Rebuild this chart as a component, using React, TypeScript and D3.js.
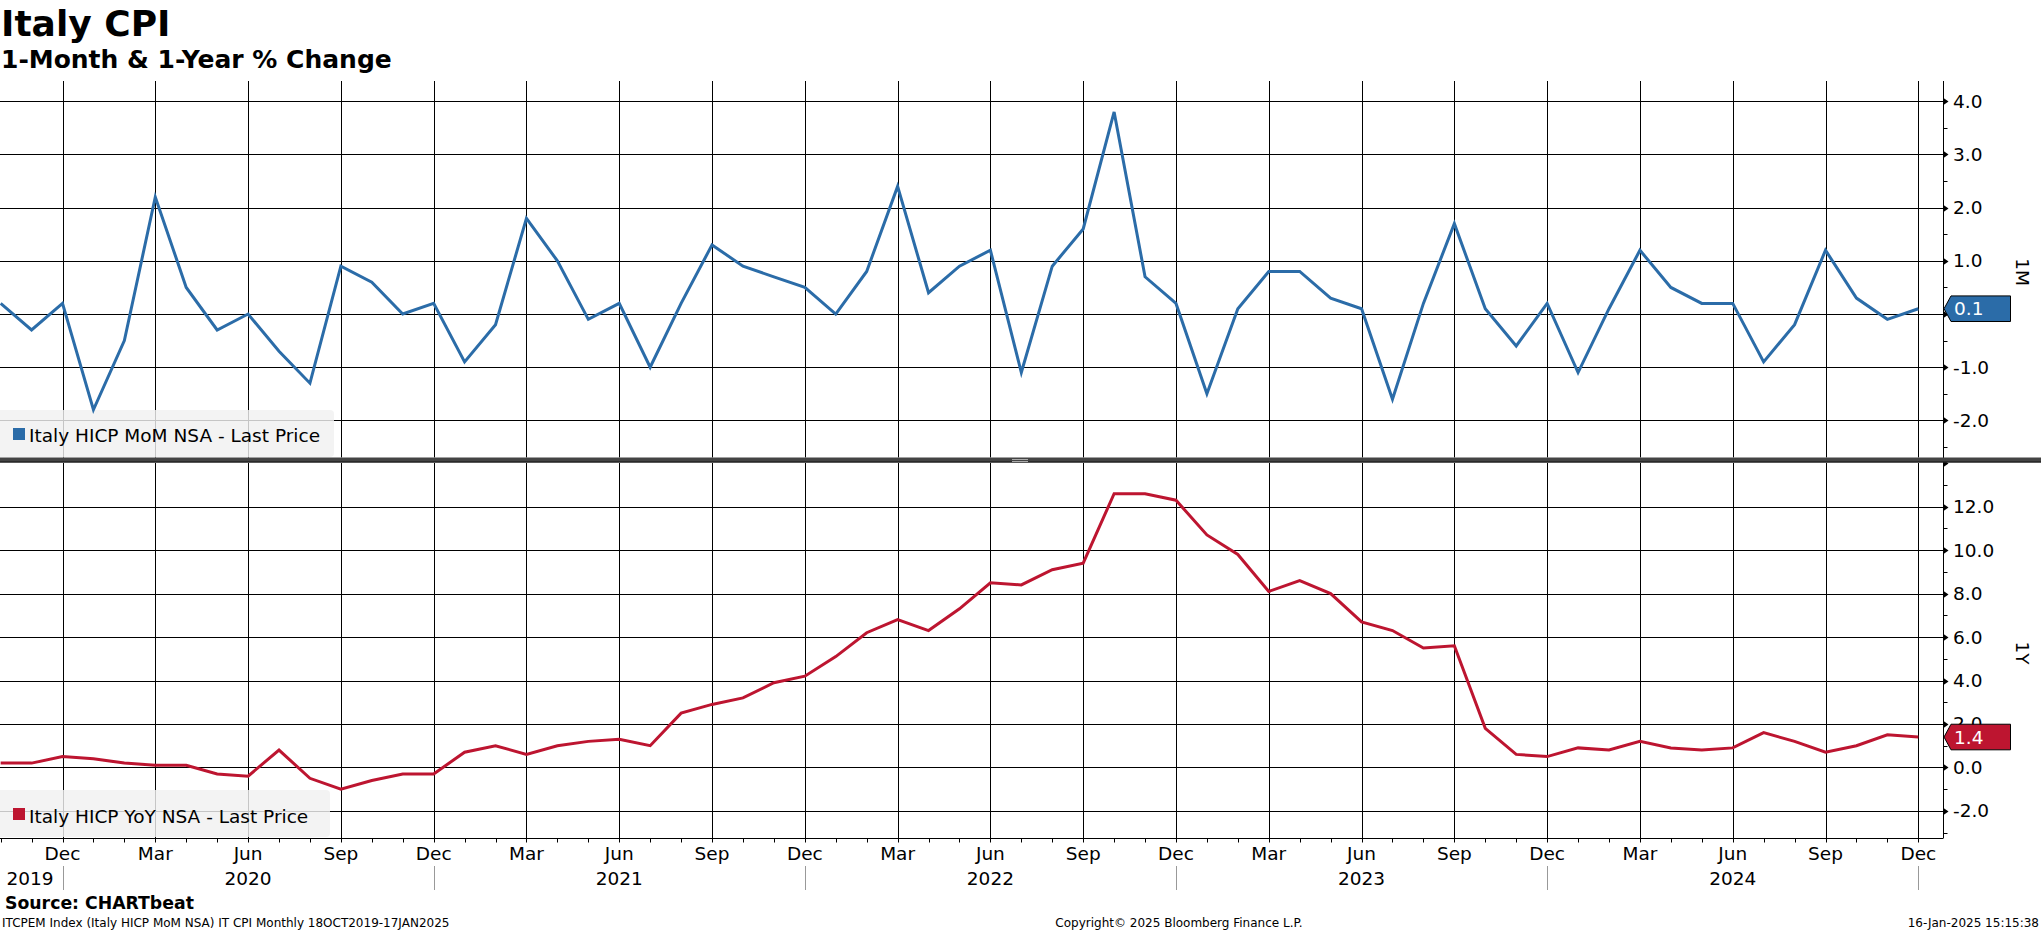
import React, { useEffect } from 'react';
import * as d3 from 'd3';

// ---------- data ----------
const months: Date[] = d3.timeMonth.range(new Date(2019, 9, 1), new Date(2025, 0, 1)); // Oct 2019 .. Dec 2024

const momValues: number[] = [
  0.2, -0.3, 0.2,
  -1.8, -0.5, 2.2, 0.5, -0.3, 0.0, -0.7, -1.3, 0.9, 0.6, 0.0, 0.2,
  -0.9, -0.2, 1.8, 1.0, -0.1, 0.2, -1.0, 0.2, 1.3, 0.9, 0.7, 0.5,
  0.0, 0.8, 2.4, 0.4, 0.9, 1.2, -1.1, 0.9, 1.6, 3.8, 0.7, 0.2,
  -1.5, 0.1, 0.8, 0.8, 0.3, 0.1, -1.6, 0.2, 1.7, 0.1, -0.6, 0.2,
  -1.1, 0.1, 1.2, 0.5, 0.2, 0.2, -0.9, -0.2, 1.2, 0.3, -0.1, 0.1,
];

const yoyValues: number[] = [
  0.2, 0.2, 0.5,
  0.4, 0.2, 0.1, 0.1, -0.3, -0.4, 0.8, -0.5, -1.0, -0.6, -0.3, -0.3,
  0.7, 1.0, 0.6, 1.0, 1.2, 1.3, 1.0, 2.5, 2.9, 3.2, 3.9, 4.2,
  5.1, 6.2, 6.8, 6.3, 7.3, 8.5, 8.4, 9.1, 9.4, 12.6, 12.6, 12.3,
  10.7, 9.8, 8.1, 8.6, 8.0, 6.7, 6.3, 5.5, 5.6, 1.8, 0.6, 0.5,
  0.9, 0.8, 1.2, 0.9, 0.8, 0.9, 1.6, 1.2, 0.7, 1.0, 1.5, 1.4,
];

const momMajorTicks = [-2, -1, 0, 1, 2, 3, 4];
const momMinorTicks = [-2.5, -1.5, -0.5, 0.5, 1.5, 2.5, 3.5];
const yoyMajorTicks = [-2, 0, 2, 4, 6, 8, 10, 12, 14];
const yoyLabelTicks = [-2, 0, 2, 4, 6, 8, 10, 12];
const yoyMinorTicks = [-3, -1, 1, 3, 5, 7, 9, 11, 13];
const monthNames = ['Jan', 'Feb', 'Mar', 'Apr', 'May', 'Jun', 'Jul', 'Aug', 'Sep', 'Oct', 'Nov', 'Dec'];
const yearLabels = [2019, 2020, 2021, 2022, 2023, 2024];

const titleText = 'Italy CPI';
const subtitleText = '1-Month & 1-Year % Change';
const momLegend = 'Italy HICP MoM NSA - Last Price';
const yoyLegend = 'Italy HICP YoY NSA - Last Price';
const sourceText = 'Source: CHARTbeat';
const footerLeft = 'ITCPEM Index (Italy HICP MoM NSA) IT CPI  Monthly 18OCT2019-17JAN2025';
const footerMid = 'Copyright\u00A9 2025 Bloomberg Finance L.P.';
const footerRight = '16-Jan-2025 15:15:38';

// ---------- styling ----------
const W = 2041;
const H = 932;
const FONT = '"DejaVu Sans", Verdana, sans-serif';
const BLUE = '#2b6ca8';
const RED = '#bd1530';
const AXIS_X = 1943.5;
const TOP_Y0 = 81;
const TOP_Y1 = 457.5;
const BOT_Y0 = 463;
const BOT_Y1 = 838;
const TAG_H = 12.8;

const px = (v: number) => Math.round(v) + 0.5;

export default function App() {
  useEffect(() => {
    document.body.style.margin = '0';
  }, []);

  const idx = months.map((_, i) => i);
  const x = d3.scaleLinear().domain([2, 62]).range([62.5, 1918.3]);
  const yTop = d3.scaleLinear().domain([-2, 4]).range([420.4, 101.3]);
  const yBot = d3.scaleLinear().domain([-2, 12]).range([810.9, 506.7]);

  const momLine = d3.line<number>().x((i) => x(i)).y((i) => yTop(momValues[i]));
  const yoyLine = d3.line<number>().x((i) => x(i)).y((i) => yBot(yoyValues[i]));

  const majorIdx = idx.filter((i) => [2, 5, 8, 11].includes(months[i].getMonth()));
  const decIdx = idx.filter((i) => months[i].getMonth() === 11);

  const yearX = (yr: number) => {
    if (yr === 2019) return null;
    const i = idx.find((j) => months[j].getFullYear() === yr && months[j].getMonth() === 5)!;
    return x(i);
  };

  const tri = (y: number) => `M${AXIS_X},${y - 3.5}L${AXIS_X + 5},${y}L${AXIS_X},${y + 3.5}Z`;

  const tag = (yv: number) =>
    `M${AXIS_X + 0.5},${yv}L${AXIS_X + 7.5},${yv - TAG_H}L2010.5,${yv - TAG_H}L2010.5,${yv + TAG_H}L${AXIS_X + 7.5},${yv + TAG_H}Z`;

  const lastMom = momValues[momValues.length - 1];
  const lastYoy = yoyValues[yoyValues.length - 1];
  const momTagY = yTop(lastMom);
  // labels fully covered by the last-value tag are not visible in the reference
  const momLabelTicks = momMajorTicks.filter((t) => Math.abs(yTop(t) - momTagY) > TAG_H - 2);

  return (
    <svg width={W} height={H} style={{ position: 'absolute', left: 0, top: 0, background: '#fff' }} fontFamily={FONT}>
      <rect x={0} y={0} width={W} height={H} fill="#fff" />
      {/* Titles */}
      <text x={1} y={36} fontSize={36} fontWeight="bold" fill="#000">{titleText}</text>
      <text x={1} y={68} fontSize={25} fontWeight="bold" fill="#000">{subtitleText}</text>

      {/* Vertical gridlines */}
      {majorIdx.map((i) => (
        <g key={'vg' + i}>
          <line x1={px(x(i))} x2={px(x(i))} y1={TOP_Y0} y2={TOP_Y1} stroke="#000" strokeWidth={1} />
          <line x1={px(x(i))} x2={px(x(i))} y1={BOT_Y0} y2={BOT_Y1} stroke="#000" strokeWidth={1} />
        </g>
      ))}

      {/* Horizontal gridlines */}
      {momMajorTicks.map((t) => (
        <line key={'ht' + t} x1={0} x2={AXIS_X} y1={px(yTop(t))} y2={px(yTop(t))} stroke="#000" strokeWidth={1} />
      ))}
      {yoyLabelTicks.map((t) => (
        <line key={'hb' + t} x1={0} x2={AXIS_X} y1={px(yBot(t))} y2={px(yBot(t))} stroke="#000" strokeWidth={1} />
      ))}

      {/* Right axis */}
      <line x1={AXIS_X} x2={AXIS_X} y1={TOP_Y0} y2={BOT_Y1} stroke="#000" strokeWidth={1} />
      {momMajorTicks.map((t) => (
        <path key={'mt' + t} d={tri(px(yTop(t)))} fill="#000" />
      ))}
      {momLabelTicks.map((t) => (
        <text key={'ml' + t} x={1953} y={yTop(t) + 6.5} fontSize={18.5} fill="#000">{t.toFixed(1)}</text>
      ))}
      {momMinorTicks.map((t) => (
        <line key={'mn' + t} x1={AXIS_X} x2={AXIS_X + 4} y1={px(yTop(t))} y2={px(yTop(t))} stroke="#000" />
      ))}
      {yoyMajorTicks.map((t) => (
        <path key={'yt' + t} d={tri(px(yBot(t)))} fill="#000" />
      ))}
      {yoyLabelTicks.map((t) => (
        <text key={'yl' + t} x={1953} y={yBot(t) + 6.5} fontSize={18.5} fill="#000">{t.toFixed(1)}</text>
      ))}
      {yoyMinorTicks.map((t) => (
        <line key={'yn' + t} x1={AXIS_X} x2={AXIS_X + 4} y1={px(yBot(t))} y2={px(yBot(t))} stroke="#000" />
      ))}

      {/* Axis titles */}
      <text transform="translate(2016,272) rotate(90)" textAnchor="middle" fontSize={18.5} fill="#000">1M</text>
      <text transform="translate(2016,653) rotate(90)" textAnchor="middle" fontSize={18.5} fill="#000">1Y</text>

      {/* Legends */}
      <rect x={-4} y={410} width={338} height={47} rx={4} fill="#f0f0f0" fillOpacity={0.82} />
      <rect x={13} y={428} width={12} height={12} fill={BLUE} />
      <text x={29} y={441.5} fontSize={18.5} fill="#000">{momLegend}</text>

      <rect x={-4} y={790} width={334} height={47} rx={4} fill="#f0f0f0" fillOpacity={0.82} />
      <rect x={13} y={808} width={12} height={12} fill={RED} />
      <text x={29} y={822.5} fontSize={18.5} fill="#000">{yoyLegend}</text>

      {/* Series */}
      <path d={momLine(idx) || ''} fill="none" stroke={BLUE} strokeWidth={3} strokeLinejoin="miter" />
      <path d={yoyLine(idx) || ''} fill="none" stroke={RED} strokeWidth={3} strokeLinejoin="miter" />

      {/* Panel separator */}
      <rect x={0} y={457.5} width={W} height={5} fill="#444" />
      <line x1={0} x2={W} y1={462} y2={462} stroke="#111" strokeWidth={1} />
      <line x1={1012} x2={1028} y1={459.5} y2={459.5} stroke="#aaa" strokeWidth={1} />
      <line x1={1012} x2={1028} y1={461.5} y2={461.5} stroke="#aaa" strokeWidth={1} />

      {/* Last value tags */}
      <path d={tag(momTagY)} fill={BLUE} stroke="#000" strokeWidth={1} />
      <text x={1954} y={momTagY + 6.5} fontSize={18.5} fill="#fff">{lastMom.toFixed(1)}</text>
      <path d={tag(yBot(lastYoy))} fill={RED} stroke="#000" strokeWidth={1} />
      <text x={1954} y={yBot(lastYoy) + 6.5} fontSize={18.5} fill="#fff">{lastYoy.toFixed(1)}</text>

      {/* X axis */}
      <line x1={0} x2={AXIS_X} y1={BOT_Y1 + 0.5} y2={BOT_Y1 + 0.5} stroke="#000" strokeWidth={1} />
      {idx.map((i) => (
        <line key={'xt' + i} x1={px(x(i))} x2={px(x(i))} y1={BOT_Y1} y2={BOT_Y1 + 4.5} stroke="#000" />
      ))}
      {majorIdx.map((i) => (
        <text key={'xl' + i} x={x(i)} y={860} fontSize={18.5} textAnchor="middle" fill="#000">
          {monthNames[months[i].getMonth()]}
        </text>
      ))}
      {decIdx.map((i) => (
        <line key={'ys' + i} x1={px(x(i))} x2={px(x(i))} y1={866} y2={890} stroke="#999" strokeWidth={1} />
      ))}
      {yearLabels.map((yr) => {
        const xx = yearX(yr);
        return xx === null ? (
          <text key={'yr' + yr} x={6.5} y={885} fontSize={18.5} fill="#000">{yr}</text>
        ) : (
          <text key={'yr' + yr} x={xx} y={885} fontSize={18.5} textAnchor="middle" fill="#000">{yr}</text>
        );
      })}

      {/* Footer */}
      <text x={5} y={909} fontSize={17.3} fontWeight="bold" fill="#000">{sourceText}</text>
      <text x={2} y={927} fontSize={12} fill="#000">{footerLeft}</text>
      <text x={1179} y={927} fontSize={12} textAnchor="middle" fill="#000">{footerMid}</text>
      <text x={2039} y={927} fontSize={12} textAnchor="end" fill="#000">{footerRight}</text>
    </svg>
  );
}
